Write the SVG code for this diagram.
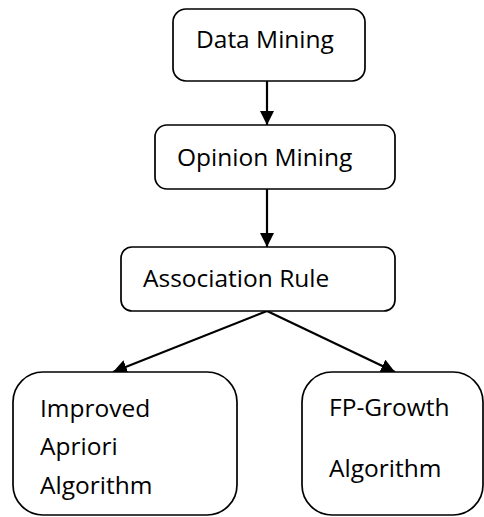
<svg xmlns="http://www.w3.org/2000/svg" width="484" height="517" viewBox="0 0 484 517">
<style>
.box{fill:#fff;stroke:#000;stroke-width:1.7}
.t{font-family:"Open Sans","Noto Sans",sans-serif;font-size:24.5px;fill:#000}
.c{stroke:#000;stroke-width:2.2;fill:none}
</style>
<defs>
<marker id="ah" viewBox="0 0 14 14" refX="14" refY="7" markerWidth="14" markerHeight="14" markerUnits="userSpaceOnUse" orient="auto">
<path d="M0,0 L14,7 L0,14 Z" fill="#000"/>
</marker>
</defs>
<rect width="484" height="517" fill="#fff"/>
<g id="connectors">
<line class="c" x1="267" y1="81" x2="267" y2="125" marker-end="url(#ah)"/>
<line class="c" x1="267" y1="189" x2="267" y2="247" marker-end="url(#ah)"/>
<line class="c" x1="267" y1="311" x2="113" y2="372" marker-end="url(#ah)"/>
<line class="c" x1="267" y1="311" x2="395" y2="372" marker-end="url(#ah)"/>
</g>
<g id="data-mining">
<rect class="box" x="173" y="9" width="192" height="72" rx="13"/>
<text class="t" x="196" y="48">Data Mining</text>
</g>
<g id="opinion-mining">
<rect class="box" x="155" y="125" width="240" height="64" rx="12"/>
<text class="t" x="177" y="166">Opinion Mining</text>
</g>
<g id="association-rule">
<rect class="box" x="121" y="247" width="274" height="64" rx="11"/>
<text class="t" x="143" y="287">Association Rule</text>
</g>
<g id="improved-apriori">
<rect class="box" x="13" y="372" width="224" height="143" rx="30"/>
<text class="t" x="40" y="417">Improved</text>
<text class="t" x="40" y="455">Apriori</text>
<text class="t" x="40" y="494">Algorithm</text>
</g>
<g id="fp-growth">
<rect class="box" x="302" y="372" width="181" height="143" rx="30"/>
<text class="t" x="329" y="416">FP-Growth</text>
<text class="t" x="329" y="477">Algorithm</text>
</g>
</svg>
